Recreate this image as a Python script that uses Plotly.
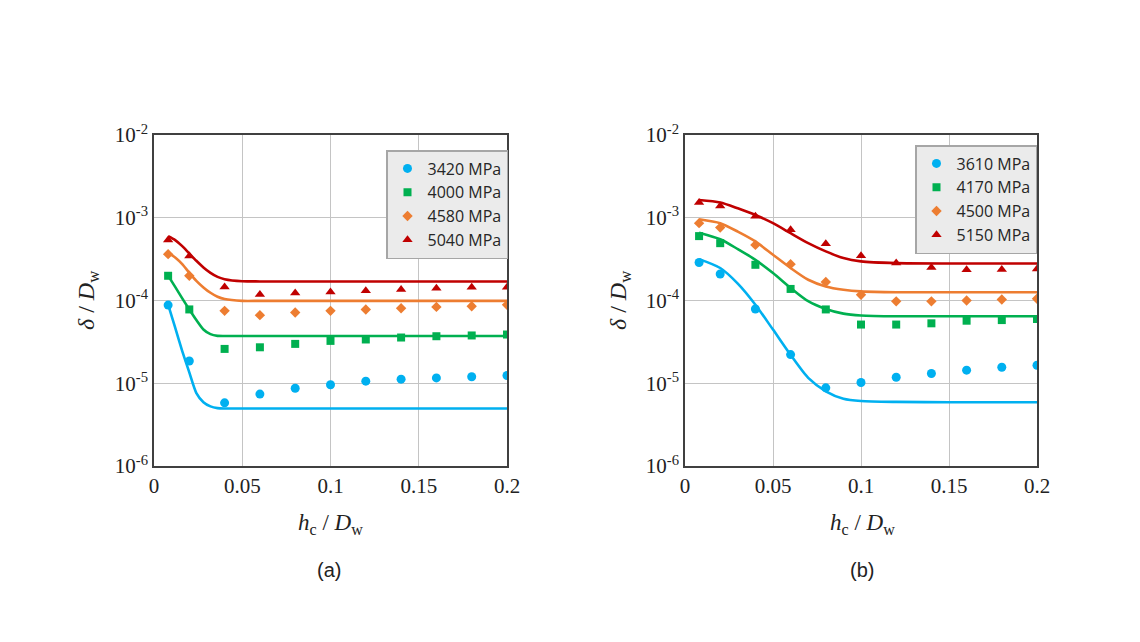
import plotly.graph_objects as go

# ---------------- data ----------------
x_pts = [0.008, 0.02, 0.04, 0.06, 0.08, 0.1, 0.12, 0.14, 0.16, 0.18, 0.2]

# panel (a) measured points
a_names = ["3420 MPa", "4000 MPa", "4580 MPa", "5040 MPa"]
a_3420 = [8.8e-5, 1.86e-5, 5.8e-6, 7.4e-6, 8.7e-6, 9.6e-6, 1.06e-5, 1.12e-5, 1.16e-5, 1.2e-5, 1.24e-5]
a_4000 = [1.99e-4, 7.8e-5, 2.6e-5, 2.72e-5, 2.99e-5, 3.25e-5, 3.38e-5, 3.57e-5, 3.7e-5, 3.78e-5, 3.88e-5]
a_4580 = [3.63e-4, 1.99e-4, 7.5e-5, 6.65e-5, 7.16e-5, 7.5e-5, 7.8e-5, 8.07e-5, 8.37e-5, 8.53e-5, 8.86e-5]
a_5040 = [5.37e-4, 3.44e-4, 1.46e-4, 1.18e-4, 1.23e-4, 1.27e-4, 1.31e-4, 1.36e-4, 1.41e-4, 1.45e-4, 1.45e-4]

# panel (a) model curves
fx_a = [0.008, 0.012, 0.016, 0.02, 0.024, 0.028, 0.032, 0.036, 0.04, 0.05, 0.06, 0.08, 0.1, 0.15, 0.2]
fa_3420 = [8.9e-5, 4.7e-5, 2.45e-5, 1.35e-5, 7.6e-6, 5.9e-6, 5.25e-6, 5.0e-6, 4.95e-6, 4.95e-6, 4.95e-6, 4.95e-6, 4.95e-6, 4.95e-6, 4.95e-6]
fa_4000 = [2.0e-4, 1.46e-4, 1.06e-4, 7.8e-5, 5.8e-5, 4.47e-5, 3.92e-5, 3.74e-5, 3.72e-5, 3.72e-5, 3.72e-5, 3.72e-5, 3.72e-5, 3.72e-5, 3.72e-5]
fa_4580 = [3.78e-4, 3.31e-4, 2.75e-4, 2.16e-4, 1.73e-4, 1.44e-4, 1.24e-4, 1.11e-4, 1.04e-4, 9.9e-5, 9.9e-5, 9.9e-5, 9.9e-5, 9.9e-5, 9.9e-5]
fa_5040 = [6.0e-4, 5.37e-4, 4.54e-4, 3.7e-4, 3.02e-4, 2.51e-4, 2.16e-4, 1.93e-4, 1.81e-4, 1.71e-4, 1.7e-4, 1.7e-4, 1.7e-4, 1.7e-4, 1.7e-4]

# panel (b) measured points
b_names = ["3610 MPa", "4170 MPa", "4500 MPa", "5150 MPa"]
b_3610 = [2.88e-4, 2.09e-4, 7.9e-5, 2.22e-5, 8.8e-6, 1.02e-5, 1.18e-5, 1.31e-5, 1.44e-5, 1.56e-5, 1.65e-5]
b_4170 = [6.0e-4, 4.93e-4, 2.7e-4, 1.38e-4, 7.8e-5, 5.12e-5, 5.12e-5, 5.3e-5, 5.7e-5, 5.8e-5, 5.98e-5]
b_4500 = [8.6e-4, 7.6e-4, 4.7e-4, 2.75e-4, 1.67e-4, 1.17e-4, 9.77e-5, 9.77e-5, 1.0e-4, 1.03e-4, 1.05e-4]
b_5150 = [1.53e-3, 1.39e-3, 1.04e-3, 7.15e-4, 4.84e-4, 3.47e-4, 2.83e-4, 2.51e-4, 2.35e-4, 2.37e-4, 2.4e-4]

# panel (b) model curves
fx_b = [0.008, 0.02, 0.03, 0.04, 0.05, 0.06, 0.07, 0.08, 0.09, 0.1, 0.12, 0.15, 0.2]
fb_3610 = [3.16e-4, 2.47e-4, 1.6e-4, 8.9e-5, 4.45e-5, 2.2e-5, 1.16e-5, 8.0e-6, 6.5e-6, 6.1e-6, 5.95e-6, 5.9e-6, 5.9e-6]
fb_4170 = [6.6e-4, 5.5e-4, 4.18e-4, 3.1e-4, 2.15e-4, 1.42e-4, 9.8e-5, 7.9e-5, 6.94e-5, 6.6e-5, 6.45e-5, 6.45e-5, 6.45e-5]
fb_4500 = [9.6e-4, 8.6e-4, 6.8e-4, 5.17e-4, 3.57e-4, 2.47e-4, 1.78e-4, 1.48e-4, 1.35e-4, 1.29e-4, 1.26e-4, 1.26e-4, 1.26e-4]
fb_5150 = [1.64e-3, 1.53e-3, 1.3e-3, 1.08e-3, 8.6e-4, 6.5e-4, 4.93e-4, 3.92e-4, 3.26e-4, 2.97e-4, 2.83e-4, 2.8e-4, 2.8e-4]

x_tickvals = [0, 0.05, 0.1, 0.15, 0.2]
x_ticktext = ["0", "0.05", "0.1", "0.15", "0.2"]
y_tickvals = [1e-6, 1e-5, 1e-4, 1e-3, 1e-2]
y_ticktext = ["10<sup>-6</sup>", "10<sup>-5</sup>", "10<sup>-4</sup>", "10<sup>-3</sup>", "10<sup>-2</sup>"]

# ---------------- layout helpers ----------------
W, H = 1140, 642
OFF = 8  # page body margin in the browser


def px(x):
    return (x - OFF) / W


def py(y):
    return (H - (y - OFF)) / H


colors = ["#00b0f0", "#00b050", "#ed7d31", "#c00000"]
symbols = ["circle", "square", "diamond", "triangle-up"]
msizes = [9, 8, 8, 9]

fig = go.Figure()

panels = [
    ("x", "y", "legend", a_names, [a_3420, a_4000, a_4580, a_5040], fx_a, [fa_3420, fa_4000, fa_4580, fa_5040]),
    ("x2", "y2", "legend2", b_names, [b_3610, b_4170, b_4500, b_5150], fx_b, [fb_3610, fb_4170, fb_4500, fb_5150]),
]

for xa, ya, leg, names, pts, fx, fits in panels:
    for i in range(4):
        fig.add_trace(go.Scatter(
            x=fx, y=fits[i], mode="lines", xaxis=xa, yaxis=ya,
            line=dict(color=colors[i], width=2.6, shape="spline", smoothing=0.7),
            showlegend=False, hoverinfo="skip"))
    for i in range(4):
        fig.add_trace(go.Scatter(
            x=x_pts, y=pts[i], mode="markers", name=names[i], xaxis=xa, yaxis=ya,
            marker=dict(color=colors[i], symbol=symbols[i], size=msizes[i], line=dict(width=0)),
            legend=leg))

serif = "Liberation Serif, Times New Roman, serif"
sans = "Open Sans, Noto Sans, sans-serif"

axis_common = dict(
    showgrid=True, gridcolor="#c4c4c4", gridwidth=1.3,
    showline=True, linecolor="#404040", linewidth=1.5, mirror=True,
    ticks="", zeroline=False, automargin=False,
    tickfont=dict(family=serif, size=21, color="#222222"),
)

ydom = [py(466), py(135)]

fig.update_layout(
    template="none",
    width=W, height=H,
    margin=dict(l=0, r=0, t=0, b=0, pad=0),
    paper_bgcolor="white", plot_bgcolor="white",
    xaxis=dict(domain=[px(154), px(507)], range=[0, 0.2], tickvals=x_tickvals, ticktext=x_ticktext,
               anchor="y", **axis_common),
    yaxis=dict(domain=ydom, type="log", range=[-6, -2], tickvals=y_tickvals, ticktext=y_ticktext,
               anchor="x", **axis_common),
    xaxis2=dict(domain=[px(685), px(1037)], range=[0, 0.2], tickvals=x_tickvals, ticktext=x_ticktext,
                anchor="y2", **axis_common),
    yaxis2=dict(domain=ydom, type="log", range=[-6, -2], tickvals=y_tickvals, ticktext=y_ticktext,
                anchor="x2", **axis_common),
    legend=dict(x=px(386), y=py(150), xanchor="left", yanchor="top",
                bgcolor="#ebebeb", bordercolor="#a6a6a6", borderwidth=1.5,
                font=dict(family=sans, size=16, color="#262626")),
    legend2=dict(x=px(915), y=py(145), xanchor="left", yanchor="top",
                 bgcolor="#ebebeb", bordercolor="#a6a6a6", borderwidth=1.5,
                 font=dict(family=sans, size=16, color="#262626")),
)

annotations = []
for cx in [88, 620]:
    annotations.append(dict(x=px(cx), y=py(300), xref="paper", yref="paper",
                            xanchor="center", yanchor="middle",
                            text="<i>δ</i> / <i>D</i><sub>w</sub>", showarrow=False, textangle=-90,
                            font=dict(family=serif, size=24, color="#222222")))
for cx in [330, 862]:
    annotations.append(dict(x=px(cx), y=py(524), xref="paper", yref="paper",
                            xanchor="center", yanchor="middle",
                            text="<i>h</i><sub>c</sub> / <i>D</i><sub>w</sub>", showarrow=False,
                            font=dict(family=serif, size=23, color="#222222")))
for cx, lab in [(329, "(a)"), (862, "(b)")]:
    annotations.append(dict(x=px(cx), y=py(570), xref="paper", yref="paper",
                            xanchor="center", yanchor="middle",
                            text=lab, showarrow=False,
                            font=dict(family="Liberation Sans, Arial, sans-serif", size=20, color="#222222")))
fig.update_layout(annotations=annotations)

fig.write_html("out.html")
